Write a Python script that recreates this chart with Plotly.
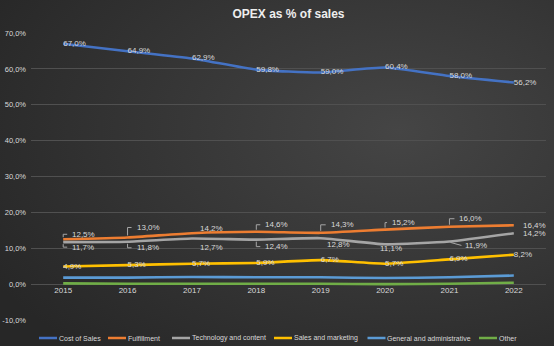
import base64
import plotly.graph_objects as go

# ---------------- data ----------------
years = [2015, 2016, 2017, 2018, 2019, 2020, 2021, 2022]
cost_of_sales = [67.0, 64.9, 62.9, 59.8, 59.0, 60.4, 58.0, 56.2]
fulfillment = [12.5, 13.0, 14.2, 14.6, 14.3, 15.2, 16.0, 16.4]
technology = [11.7, 11.8, 12.7, 12.4, 12.8, 11.1, 11.9, 14.2]
sales_marketing = [4.9, 5.3, 5.7, 5.9, 6.7, 5.7, 6.9, 8.2]
general_admin = [1.8, 1.8, 2.0, 1.9, 1.9, 1.7, 1.9, 2.4]
other = [0.2, 0.1, 0.1, 0.1, 0.1, 0.0, 0.1, 0.4]
series_names = ["Cost of Sales", "Fulfillment", "Technology and content",
                "Sales and marketing", "General and administrative", "Other"]
y_ticks = [-10, 0, 10, 20, 30, 40, 50, 60, 70]

# ---------------- styles ----------------
colors = ["#4472C4", "#ED7D31", "#A5A5A5", "#FFC000", "#5B9BD5", "#70AD47"]
FONT = "Liberation Sans"
TXT = "#d9d9d9"
LEADER = "#a6a6a6"

# label offsets (px): dx to label left edge, dy (screen, down positive), leader type
ful_off = [(7, -5, "b"), (7, -10, "b"), (6, -5, ""), (7, -7, "b"),
           (8, -8, "b"), (5, -7, "b"), (8, -8, "b"), (7, 0, "")]
tech_off = [(7, 5, "b"), (7, 6, "b"), (6, 9, ""), (7, 7, "b"),
            (4, 6, ""), (-7, 4, ""), (14, 4, "d"), (7, 0, "")]


def fmt(v):
    return f"{v:.1f}".replace(".", ",") + "%"


fig = go.Figure()
all_series = [cost_of_sales, fulfillment, technology, sales_marketing, general_admin, other]
for idx, (name, vals, col) in enumerate(zip(series_names, all_series, colors)):
    with_text = idx in (0, 3)
    fig.add_trace(go.Scatter(
        x=years, y=vals, name=name,
        mode="lines+text" if with_text else "lines",
        text=[fmt(v) for v in vals] if with_text else None,
        textposition="middle right",
        textfont=dict(family=FONT, size=8, color=TXT),
        line=dict(color=col, width=2.6, shape="spline", smoothing=0.5),
        showlegend=False, hoverinfo="skip",
    ))

annotations = []
shapes = []


def add_labels(vals, offs):
    for x, v, (dx, dy, kind) in zip(years, vals, offs):
        annotations.append(dict(
            x=x, y=v, xref="x", yref="y", text=fmt(v), showarrow=False,
            xanchor="left", yanchor="middle", xshift=dx, yshift=-dy,
            font=dict(family=FONT, size=8, color=TXT)))
        if kind == "b":
            s = -1 if dy < 0 else 1
            path = f"M 0,{-s*2} L 0,{-dy} L {dx-3},{-dy}"
            shapes.append(dict(type="path", xref="x", yref="y",
                               xsizemode="pixel", ysizemode="pixel",
                               xanchor=x, yanchor=v, path=path,
                               line=dict(color=LEADER, width=1)))
        elif kind == "d":
            path = f"M 1,-1 L {dx-2},{-dy}"
            shapes.append(dict(type="path", xref="x", yref="y",
                               xsizemode="pixel", ysizemode="pixel",
                               xanchor=x, yanchor=v, path=path,
                               line=dict(color=LEADER, width=1)))


add_labels(fulfillment, ful_off)
add_labels(technology, tech_off)

# custom legend (paper coordinates)
W, H = 554, 346
ML, MR, MT, MB = 31, 8, 33, 26
PW, PH = W - ML - MR, H - MT - MB


def px2paper_x(px):
    return (px - ML) / PW


def py2paper_y(py):
    return (H - MB - py) / PH


legend_x = [39, 108, 172, 274, 367.5, 479]
ly = py2paper_y(338)
for name, col, lx in zip(series_names, colors, legend_x):
    shapes.append(dict(type="line", xref="paper", yref="paper",
                       x0=px2paper_x(lx), x1=px2paper_x(lx + 18), y0=ly, y1=ly,
                       line=dict(color=col, width=2.5)))
    annotations.append(dict(x=px2paper_x(lx + 18.5), y=ly, xref="paper", yref="paper",
                            text=name, showarrow=False, xanchor="left", yanchor="middle",
                            font=dict(family=FONT, size=7, color=TXT), borderpad=0))

# background gradient as SVG image
svg = ('<svg xmlns="http://www.w3.org/2000/svg" width="554" height="346">'
       '<defs><radialGradient id="g" cx="72%" cy="38%" r="85%">'
       '<stop offset="0" stop-color="#454545"/><stop offset="1" stop-color="#272727"/>'
       '</radialGradient></defs><rect width="100%" height="100%" fill="url(#g)"/></svg>')
src = "data:image/svg+xml;base64," + base64.b64encode(svg.encode()).decode()

fig.update_layout(
    width=W, height=H,
    margin=dict(l=ML, r=MR, t=MT, b=MB),
    paper_bgcolor="#333333", plot_bgcolor="rgba(0,0,0,0)",
    title=dict(text="<b>OPEX as % of sales</b>", x=0.5, xref="paper", xanchor="center",
               y=1 - 14 / H, yref="container", yanchor="middle",
               font=dict(family=FONT, size=12, color="#eeeeee")),
    images=[dict(source=src, xref="paper", yref="paper",
                 x=-ML / PW, y=1 + MT / PH, sizex=W / PW, sizey=H / PH,
                 sizing="stretch", xanchor="left", yanchor="top", layer="below")],
    annotations=annotations, shapes=shapes,
    showlegend=False,
)
fig.update_xaxes(range=[years[0] - 0.5, years[-1] + 0.5], tickvals=years,
                 ticktext=[str(y) for y in years], automargin=False,
                 showgrid=False, zeroline=False, showline=False,
                 anchor="free", position=(0 - y_ticks[0]) / (y_ticks[-1] - y_ticks[0]),
                 tickfont=dict(family=FONT, size=8, color=TXT), ticks="")
fig.update_yaxes(range=[y_ticks[0], y_ticks[-1]], tickvals=y_ticks,
                 ticktext=[fmt(t) for t in y_ticks], automargin=False,
                 showgrid=True, gridcolor="#505050", gridwidth=1,
                 zeroline=False, showline=False, ticks="",
                 ticklabelstandoff=4,
                 tickfont=dict(family=FONT, size=7.5, color=TXT))

fig.write_html("out.html")
